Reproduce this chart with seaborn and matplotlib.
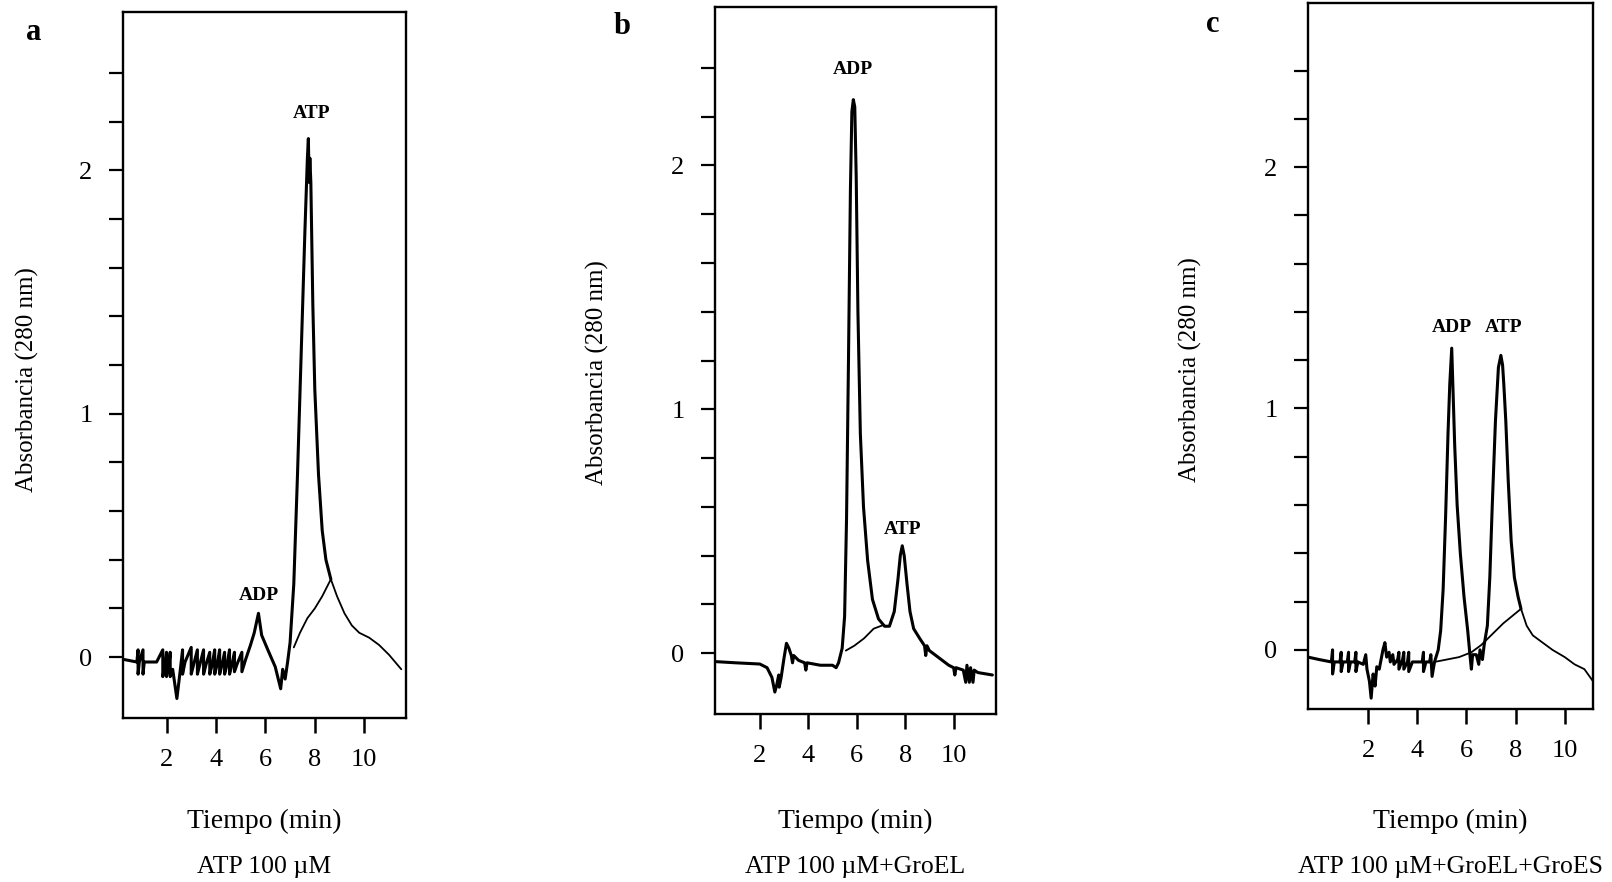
import matplotlib
matplotlib.use("Agg")
import matplotlib.pyplot as plt
from matplotlib.ticker import FixedLocator
import pandas as pd
import seaborn as sns

# panel a: ATP 100 uM  (time in min, absorbance)
a_main_t = [0.30, 0.80, 0.85, 0.85, 0.90, 1.05, 1.05, 1.10, 1.60, 1.85, 1.85, 1.95,
            2.00, 2.00, 2.10, 2.15, 2.15, 2.25, 2.42, 2.55, 2.65, 2.65, 2.75, 3.00,
            3.00, 3.10, 3.25, 3.25, 3.35, 3.50, 3.50, 3.60, 3.75, 3.75, 3.85, 3.95,
            3.95, 4.05, 4.15, 4.15, 4.25, 4.35, 4.35, 4.45, 4.55, 4.55, 4.65, 4.75,
            4.75, 4.85, 5.05, 5.05, 5.20, 5.40, 5.55, 5.72, 5.85, 6.10, 6.40, 6.62,
            6.70, 6.80, 6.90, 7.00, 7.15, 7.30, 7.45, 7.60, 7.70, 7.74, 7.77, 7.80,
            7.84, 7.92, 8.00, 8.15, 8.30, 8.45, 8.65]
a_main_y = [-0.01, -0.02, 0.03, -0.07, -0.02, 0.03, -0.07, -0.02, -0.02, 0.03, -0.08, -0.03,
            0.02, -0.08, -0.03, 0.02, -0.08, -0.05, -0.17, -0.06, 0.03, -0.07, -0.02, 0.04,
            -0.07, -0.03, 0.03, -0.07, -0.03, 0.03, -0.07, -0.03, 0.02, -0.07, -0.03, 0.03,
            -0.07, -0.03, 0.03, -0.07, -0.03, 0.02, -0.07, -0.03, 0.03, -0.07, -0.03, 0.02,
            -0.06, -0.03, 0.02, -0.06, -0.01, 0.05, 0.10, 0.18, 0.09, 0.03, -0.04, -0.13,
            -0.05, -0.09, -0.02, 0.06, 0.30, 0.75, 1.25, 1.75, 2.05, 2.13, 1.95, 2.05,
            1.95, 1.45, 1.10, 0.75, 0.52, 0.40, 0.32]
a_base_t = [7.15, 7.40, 7.70, 8.00, 8.30, 8.65, 8.90, 9.20, 9.50, 9.80, 10.20, 10.60, 11.00, 11.50]
a_base_y = [0.04, 0.10, 0.16, 0.20, 0.25, 0.32, 0.25, 0.18, 0.13, 0.10, 0.08, 0.05, 0.01, -0.05]

# panel b: ATP 100 uM + GroEL
b_main_t = [0.15, 1.00, 2.00, 2.30, 2.50, 2.62, 2.70, 2.78, 2.80, 2.88, 3.00, 3.10,
            3.20, 3.30, 3.35, 3.40, 3.60, 3.85, 3.90, 3.95, 4.50, 5.00, 5.15, 5.25,
            5.40, 5.50, 5.58, 5.66, 5.74, 5.80, 5.86, 5.92, 5.98, 6.05, 6.15, 6.28,
            6.45, 6.65, 6.90, 7.15, 7.35, 7.55, 7.70, 7.80, 7.88, 7.96, 8.08, 8.20,
            8.35, 8.60, 8.80, 8.85, 8.90, 9.00, 9.40, 9.80, 10.00, 10.05, 10.10, 10.40,
            10.50, 10.55, 10.65, 10.70, 10.80, 10.85, 11.00, 11.60]
b_main_y = [-0.035, -0.04, -0.045, -0.06, -0.10, -0.16, -0.13, -0.09, -0.14, -0.10, -0.02, 0.04,
            0.02, -0.01, -0.04, -0.01, -0.03, -0.04, -0.07, -0.04, -0.05, -0.05, -0.06, -0.04,
            0.02, 0.15, 0.55, 1.20, 1.90, 2.22, 2.27, 2.24, 1.95, 1.40, 0.90, 0.60,
            0.38, 0.22, 0.14, 0.11, 0.11, 0.17, 0.30, 0.40, 0.44, 0.40, 0.28, 0.17,
            0.10, 0.06, 0.03, -0.01, 0.03, 0.01, -0.02, -0.05, -0.06, -0.09, -0.06, -0.07,
            -0.12, -0.05, -0.12, -0.06, -0.12, -0.07, -0.08, -0.09]
b_base_t = [5.55, 5.90, 6.30, 6.70, 7.10]
b_base_y = [0.01, 0.03, 0.06, 0.10, 0.115]

# panel c: ATP 100 uM + GroEL + GroES
c_main_t = [-0.45, 0.00, 0.50, 0.55, 0.55, 0.62, 0.85, 0.90, 0.90, 0.98, 1.15, 1.20,
            1.20, 1.28, 1.45, 1.50, 1.50, 1.58, 1.80, 1.90, 1.95, 2.05, 2.12, 2.20,
            2.28, 2.35, 2.45, 2.60, 2.68, 2.75, 2.85, 2.90, 3.00, 3.05, 3.20, 3.25,
            3.25, 3.40, 3.45, 3.45, 3.60, 3.65, 3.65, 3.80, 4.20, 4.25, 4.25, 4.35,
            4.50, 4.55, 4.60, 4.70, 4.85, 4.95, 5.05, 5.15, 5.25, 5.32, 5.40, 5.46,
            5.52, 5.62, 5.75, 5.90, 6.05, 6.15, 6.20, 6.25, 6.40, 6.50, 6.55,
            6.65, 6.72, 6.85, 6.95, 7.05, 7.18, 7.30, 7.40, 7.47, 7.52, 7.60, 7.70,
            7.82, 7.95, 8.10, 8.22]
c_main_y = [-0.03, -0.04, -0.05, 0.00, -0.10, -0.05, -0.05, -0.01, -0.09, -0.05, -0.05, -0.01,
            -0.09, -0.05, -0.05, -0.01, -0.09, -0.05, -0.06, -0.02, -0.08, -0.13, -0.20, -0.10,
            -0.15, -0.07, -0.08, 0.00, 0.03, -0.03, -0.01, -0.05, -0.02, -0.06, -0.04, -0.01,
            -0.08, -0.04, -0.01, -0.08, -0.05, -0.01, -0.09, -0.05, -0.05, -0.01, -0.09, -0.05,
            -0.05, -0.02, -0.11, -0.05, 0.00, 0.08, 0.25, 0.55, 0.90, 1.10, 1.25, 1.05,
            0.85, 0.60, 0.40, 0.22, 0.08, -0.03, -0.08, -0.02, -0.02, -0.06, 0.00,
            -0.04, 0.02, 0.10, 0.30, 0.60, 0.95, 1.17, 1.22, 1.18, 1.10, 0.95, 0.70,
            0.45, 0.30, 0.22, 0.17]
c_base_t = [4.70, 5.20, 5.70, 6.20, 6.60, 7.00, 7.50, 8.22, 8.45, 8.70, 9.10, 9.50,
            10.00, 10.40, 10.80, 11.15]
c_base_y = [-0.05, -0.04, -0.03, -0.01, 0.02, 0.06, 0.11, 0.17, 0.10, 0.06, 0.03, 0.00,
            -0.03, -0.06, -0.08, -0.13]

panel_letters = ["a", "b", "c"]
subtitles = ["ATP 100 \u00b5M", "ATP 100 \u00b5M+GroEL", "ATP 100 \u00b5M+GroEL+GroES"]
peak_labels = [[("ADP", 5.72, 0.22), ("ATP", 7.85, 2.20)],
               [("ADP", 5.86, 2.36), ("ATP", 7.90, 0.47)],
               [("ADP", 5.40, 1.30), ("ATP", 7.50, 1.30)]]
xlims = [(0.24, 11.69), (0.15, 11.75), (-0.45, 11.15)]
ylims = [(-0.25, 2.65), (-0.25, 2.65), (-0.245, 2.68)]

sns.set_theme(style="ticks")
plt.rcParams["font.family"] = ["Liberation Serif", "DejaVu Serif"]

W, H = 1612, 882
fig = plt.figure(figsize=(W / 100, H / 100), dpi=100)

# axes boxes in pixels: left, top, right, bottom
boxes = [(123, 12, 406, 718), (715, 7, 996, 714), (1308, 3, 1593, 709)]
ylab_x = [27, 597, 1190]
ylab_y = [380, 373, 370]
letter_xy = [(34, 32), (622, 27), (1213, 24)]

traces = [(a_main_t, a_main_y, a_base_t, a_base_y),
          (b_main_t, b_main_y, b_base_t, b_base_y),
          (c_main_t, c_main_y, c_base_t, c_base_y)]

for i, (l, t, r, b) in enumerate(boxes):
    ax = fig.add_axes([l / W, 1 - b / H, (r - l) / W, (b - t) / H])
    mt, my, bt, by = traces[i]
    main_df = pd.DataFrame({"Tiempo": mt, "Abs": my})
    base_df = pd.DataFrame({"Tiempo": bt, "Abs": by})
    sns.lineplot(data=main_df, x="Tiempo", y="Abs", sort=False, estimator=None,
                 color="black", linewidth=2.2, ax=ax)
    sns.lineplot(data=base_df, x="Tiempo", y="Abs", sort=False, estimator=None,
                 color="black", linewidth=1.3, ax=ax)
    ax.set_xlim(*xlims[i])
    ax.set_ylim(*ylims[i])
    ax.xaxis.set_major_locator(FixedLocator([2, 4, 6, 8, 10]))
    ax.yaxis.set_major_locator(FixedLocator([0, 1, 2]))
    ax.yaxis.set_minor_locator(FixedLocator([0.2, 0.4, 0.6, 0.8, 1.2, 1.4, 1.6, 1.8, 2.2, 2.4]))
    ax.tick_params(axis="x", direction="out", length=11, width=1.8, pad=11,
                   labelsize=19, colors="black")
    ax.tick_params(axis="y", which="both", direction="out", length=10, width=1.6,
                   pad=12, labelsize=19, colors="black")
    ax.tick_params(top=False, right=False)
    for sp in ax.spines.values():
        sp.set_visible(True)
        sp.set_color("black")
        sp.set_linewidth(1.7)
    ax.set_xlabel("")
    ax.set_ylabel("")
    for name, px, py in peak_labels[i]:
        ax.text(px, py, name, ha="center", va="bottom", fontsize=14,
                fontweight="bold", color="black")

    cx = (l + r) / 2
    fig.text(cx / W, 1 - 821 / H, "Tiempo (min)", ha="center", va="center",
             fontsize=20, color="black")
    fig.text(cx / W, 1 - 867 / H, subtitles[i], ha="center", va="center",
             fontsize=18.5, color="black")
    fig.text(ylab_x[i] / W, 1 - ylab_y[i] / H, "Absorbancia (280 nm)", rotation=90,
             ha="center", va="center", fontsize=18, color="black")
    lx, ly = letter_xy[i]
    fig.text(lx / W, 1 - ly / H, panel_letters[i], ha="center", va="center",
             fontsize=22, fontweight="bold", color="black")

fig.savefig("out.png", dpi=100, facecolor="white")
